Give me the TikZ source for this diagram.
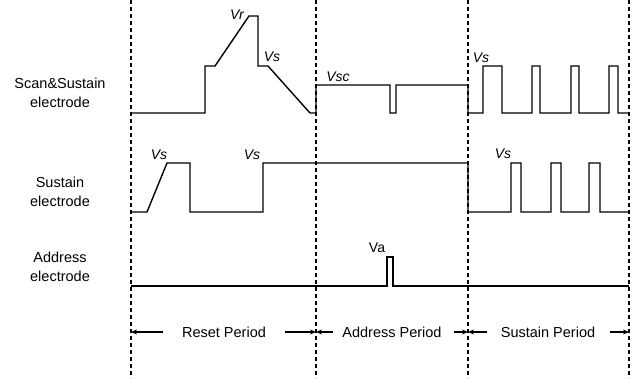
\documentclass[tikz,border=0pt]{standalone}
\usepackage{fontspec}
\setmainfont{Liberation Sans}
\usetikzlibrary{arrows.meta,positioning}

\tikzset{
  wave/.style={line width=1.4pt, line join=miter},
  divider/.style={line width=1.1pt, dash pattern=on 4pt off 3pt},
  volt/.style={font=\fontsize{14}{16}\selectfont\itshape},
  elabel/.style={align=center, font=\fontsize{14.5}{18.5}\selectfont},
  period/.style={font=\fontsize{14.5}{17}\selectfont},
  periodarrow/.style={-{Stealth[length=6pt,width=5pt]}, line width=1.2pt}
}

\begin{document}
\begin{tikzpicture}[x=1pt,y=-1pt]
\useasboundingbox (0,0) rectangle (637,378);
\coordinate (t0) at (131,0);
\coordinate (t1) at (316,0);
\coordinate (t2) at (468,0);
\coordinate (t3) at (629,0);
\foreach \t in {t0,t1,t2,t3}
  \draw[divider] (\t) -- ++(0,378);

\draw[wave] (131,113) -- (205,113) -- (205,66) -- (215,66) -- (249,16) -- (258,16)
  -- (258,66) -- (268,66) -- (310,113) -- (316,113) -- (316,85) -- (390,85)
  -- (390,113) -- (396,113) -- (396,85) -- (468,85) -- (468,113) -- (483,113)
  -- (483,66) -- (502,66) -- (502,113) -- (532,113) -- (532,66) -- (540,66)
  -- (540,113) -- (571,113) -- (571,66) -- (579,66) -- (579,113) -- (609,113)
  -- (609,66) -- (618,66) -- (618,113) -- (629,113);
\draw[wave] (131,212) -- (147,212) -- (167,163) -- (190,163) -- (190,212) -- (263,212)
  -- (263,163) -- (468,163) -- (468,212) -- (511,212) -- (511,163) -- (521,163)
  -- (521,212) -- (551,212) -- (551,163) -- (561,163) -- (561,212) -- (589,212)
  -- (589,163) -- (600,163) -- (600,212) -- (629,212);
\draw[wave] (131,286) -- (387,286) -- (387,257) -- (393,257) -- (393,286) -- (629,286);

\node[elabel] (scanlbl) at (60,93) {Scan\&Sustain\\electrode};
\node[elabel] (suslbl) at (60,192) {Sustain\\electrode};
\node[elabel] (addrlbl) at (60,267) {Address\\electrode};

\node[volt] (vr) at (237,15) {Vr};
\node[volt] (vsreset) at (272,57) {Vs};
\node[volt] (vsc) at (338,77) {Vsc};
\node[volt] (vsscan) at (481,58) {Vs};
\node[volt] (vsramp) at (159,155) {Vs};
\node[volt] (vsup) at (252,155) {Vs};
\node[volt] (vssus) at (503,154) {Vs};
\node[volt, font=\fontsize{14}{16}\selectfont] (va) at (377,248) {Va};

\node[period] (reset) at (224,332) {Reset Period};
\node[period] (address) at (392,332) {Address Period};
\node[period] (sustain) at (548,332) {Sustain Period};

\draw[periodarrow] ([xshift=-16pt]reset.west) -- (t0 |- reset);
\draw[periodarrow] ([xshift=16pt]reset.east) -- (t1 |- reset);
\draw[periodarrow] ([xshift=-6pt]address.west) -- (t1 |- address);
\draw[periodarrow] ([xshift=9pt]address.east) -- (t2 |- address);
\draw[periodarrow] ([xshift=-10pt]sustain.west) -- (t2 |- sustain);
\draw[periodarrow] ([xshift=11pt]sustain.east) -- (t3 |- sustain);
\end{tikzpicture}
\end{document}
